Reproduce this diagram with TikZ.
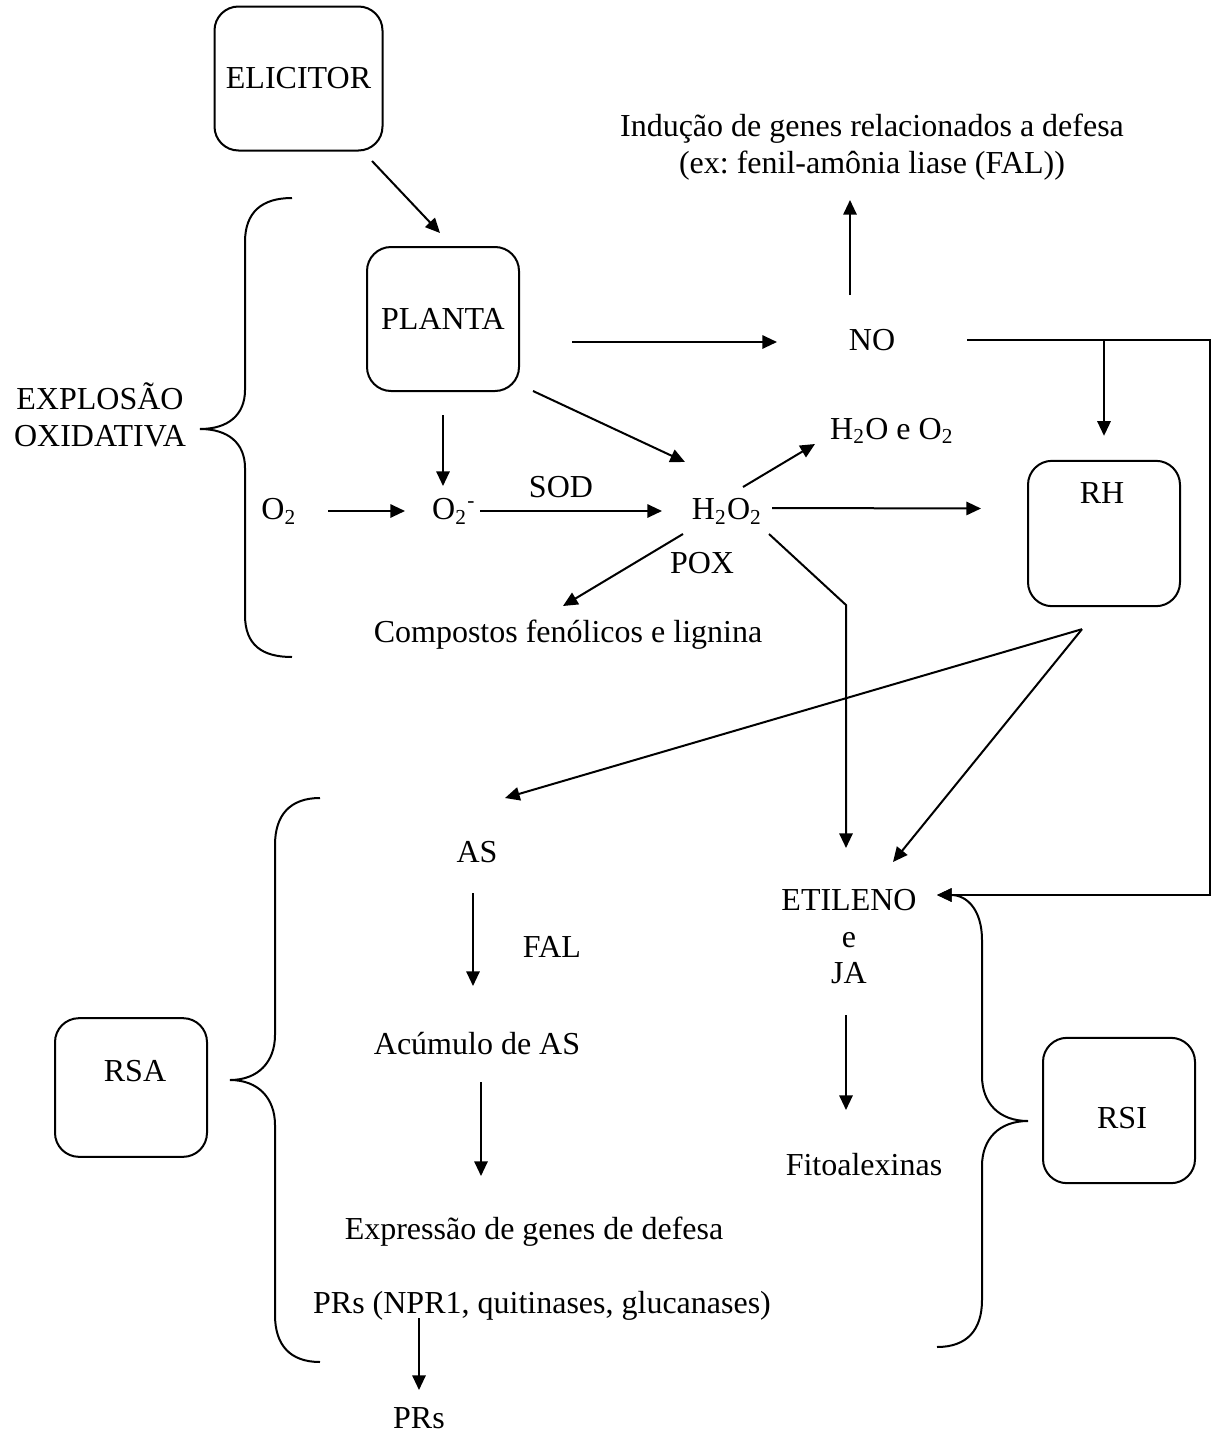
\documentclass[tikz,border=0pt]{standalone}
\usepackage{fontspec}
\setmainfont{Liberation Serif}
\usetikzlibrary{arrows.meta}
\frenchspacing
\tikzset{
  box/.style={draw, rounded corners=9pt, minimum width=57pt, minimum height=54pt},
  arr/.style={-{Triangle[length=5.5pt,width=5pt]}},
  txt/.style={inner sep=0pt}
}
\begin{document}
\begin{tikzpicture}[x=0.375pt, y=-0.375pt, line width=0.75pt, font=\fontsize{12}{13.8}\selectfont]
  \useasboundingbox (0,0) rectangle (1212,1442);
  % boxes
  \node[box, minimum width=63pt] (elicitor) at (298.5,78.5) {ELICITOR};
  \node[box] (planta) at (443,319) {PLANTA};
  \node[box, minimum height=54.5pt] (rh) at (1104,533.5) {};
  \node[txt] (rhtxt) at (1102,493) {RH};
  \node[box, minimum height=52pt] (rsa) at (131,1087.5) {};
  \node[txt] (rsatxt) at (135,1071) {RSA};
  \node[box, minimum height=54.5pt] (rsi) at (1119,1110.5) {};
  \node[txt] (rsitxt) at (1122,1118) {RSI};
  % texts
  \node[txt, align=center] (induc) at (872,147) {Indução de genes relacionados a defesa\\(ex: fenil-amônia liase (FAL))};
  \node[txt] (no) at (872,340) {NO};
  \node[txt] (h2o) at (892,431) {H\textsubscript{2}O e O\textsubscript{2}};
  \node[txt, align=center] (explosao) at (100,415) {EXPLOSÃO\\OXIDATIVA};
  \node[txt] (o2) at (279,511) {O\textsubscript{2}};
  \node[txt] (o2m) at (454,511) {O\textsubscript{2}\textsuperscript{-}};
  \node[txt] (sod) at (561,487) {SOD};
  \node[txt] (h2o2) at (727,511) {H\textsubscript{2}O\textsubscript{2}};
  \node[txt] (pox) at (702,563) {POX};
  \node[txt] (fenol) at (568,635) {Compostos fenólicos e lignina};
  \node[txt] (as) at (477,852) {AS};
  \node[txt] (fal) at (552,947) {FAL};
  \node[txt] (acum) at (477,1044) {Acúmulo de AS};
  \node[txt] (expr) at (534,1232) {Expressão de genes de defesa};
  \node[txt] (prsnpr) at (542,1306) {PRs (NPR1, quitinases, glucanases)};
  \node[txt] (prs) at (419,1418) {PRs};
  \node[txt] (etil) at (849,900) {ETILENO};
  \node[txt] (etile) at (849,940) {e};
  \node[txt] (ja) at (849,973) {JA};
  \node[txt] (fito) at (864,1165) {Fitoalexinas};
  % connectors
  \draw[arr] ([shift={(73.5,82.5)}]elicitor.center) -- ([shift={(-3,-86)}]planta.center);
  \draw[arr] ([shift={(129,23)}]planta.center) -- ([shift={(-95,2)}]no.center);
  \draw[arr] ([shift={(-22,-45)}]no.center) -- ([shift={(-22,53)}]induc.center);
  \draw[arr] ([shift={(0,96)}]planta.center) -- ([shift={(-11,-25)}]o2m.center);
  \draw[arr] ([shift={(90,72)}]planta.center) -- ([shift={(-42,-49)}]h2o2.center);
  \draw[arr] ([shift={(49,0)}]o2.center) -- ([shift={(-49,0)}]o2m.center);
  \draw[arr] ([shift={(26,0)}]o2m.center) -- ([shift={(-65,0)}]h2o2.center);
  \draw[arr] ([shift={(16,-24)}]h2o2.center) -- ([shift={(-77,13)}]h2o.center);
  \draw[arr] ([shift={(45,-3)}]h2o2.center) -- ([shift={(-46,-25)}]rh.west);
  \draw[arr] ([shift={(-44,23)}]h2o2.center) -- ([shift={(-5,-29)}]fenol.center);
  \draw[arr] ([shift={(42,23)}]h2o2.center) -- ++(77,71) -- ([shift={(-3,-52)}]etil.center);
  \draw[arr] ([shift={(95,0)}]no.center) -- ++(243,0) |- ([shift={(88,-5)}]etil.center);
  \draw[arr] ([shift={(232,0)}]no.center) -- ([shift={(0,-24)}]rh.north);
  \draw[arr] ([shift={(-22,22)}]rh.south) -- ([shift={(28,-54)}]as.center);
  \draw[arr] ([shift={(-22,22)}]rh.south) -- ([shift={(44,-38)}]etil.center);
  \draw[arr] ([shift={(-4,41)}]as.center) -- ([shift={(-4,-58)}]acum.center);
  \draw[arr] ([shift={(4,38)}]acum.center) -- ([shift={(-53,-56)}]expr.center);
  \draw[arr] ([shift={(-3,42)}]ja.center) -- ([shift={(-18,-55)}]fito.center);
  \draw[arr] ([shift={(-123,12)}]prsnpr.center) -- ([shift={(0,-28)}]prs.center);
  % braces
  \draw (292,198) .. controls (262,198) and (245,212) .. (245,242) -- (245,390)
    .. controls (245,415) and (228,429) .. (200,429) .. controls (228,429) and (245,443) .. (245,468)
    -- (245,615) .. controls (245,645) and (262,657) .. (292,657);
  \draw (320,798) .. controls (290,798) and (275,815) .. (275,845) -- (275,1035)
    .. controls (275,1062) and (258,1080) .. (230,1080) .. controls (258,1080) and (275,1098) .. (275,1125)
    -- (275,1315) .. controls (275,1345) and (290,1362) .. (320,1362);
  \draw[arr] (937,1347) .. controls (967,1347) and (982,1330) .. (982,1300) -- (982,1166)
    .. controls (982,1139) and (999,1121) .. (1028,1121) .. controls (999,1121) and (982,1103) .. (982,1076)
    -- (982,940) .. controls (982,910) and (967,895) .. ([shift={(88,-5)}]etil.center);
\end{tikzpicture}
\end{document}
